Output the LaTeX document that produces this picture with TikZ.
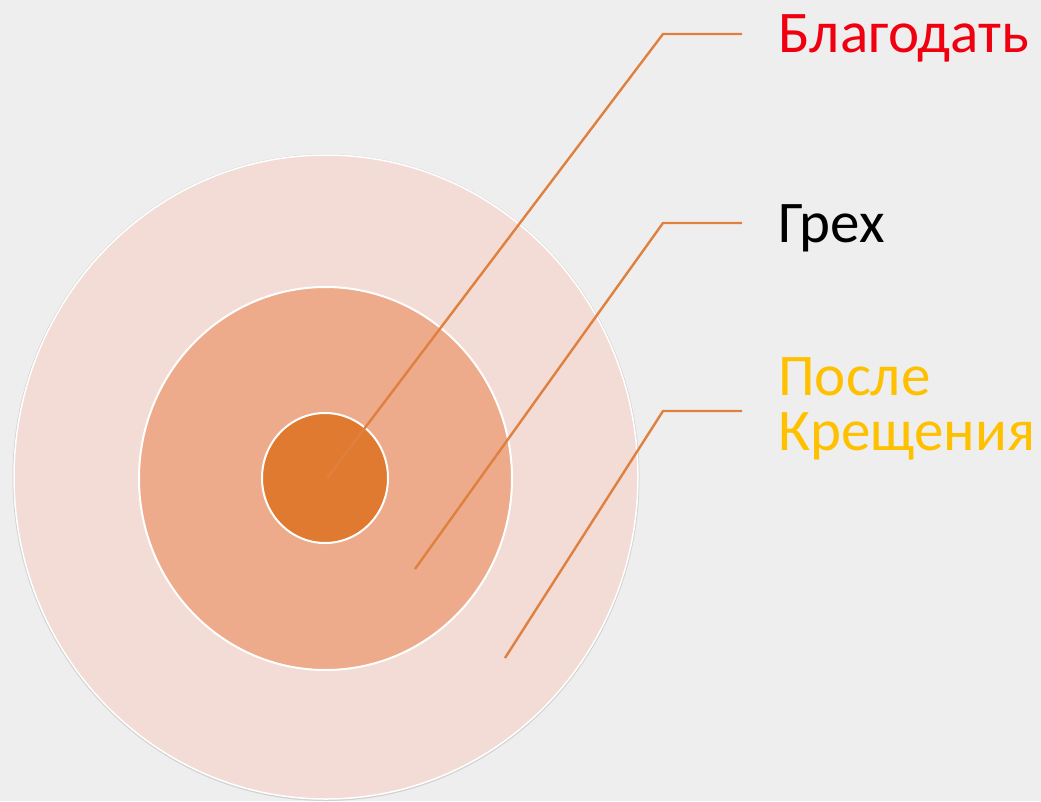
\documentclass[tikz,border=0pt]{standalone}
\usepackage{fontspec}
\setmainfont{Carlito}
\usetikzlibrary{shapes.geometric}
\definecolor{bgc}{HTML}{EEEEEE}
\definecolor{ringA}{HTML}{F2DCD5}
\definecolor{ringB}{HTML}{EDAB8B}
\definecolor{ringC}{HTML}{E07A30}
\definecolor{linec}{HTML}{E0803F}
\definecolor{redt}{HTML}{F0000F}
\definecolor{goldt}{HTML}{FFC000}
\tikzset{
  disc/.style={ellipse, inner sep=0pt, draw=white, line width=2pt},
  leader/.style={draw=linec, line width=2.4pt},
  lbl/.style={anchor=base west, inner sep=0pt, font=\fontsize{59}{55}\selectfont},
}
\begin{document}
\begin{tikzpicture}[x=1pt,y=-1pt]
\useasboundingbox (0,0) rectangle (1041,801);
\fill[bgc] (0,0) rectangle (1041,801);
% shadow of outer disc
\fill[black!18] (326,477.5) ellipse [x radius=313.5, y radius=323.5];
\node[disc, fill=ringA, line width=1.5pt, minimum width=624pt, minimum height=644pt] (outer) at (326,477) {};
\node[disc, fill=ringB, minimum width=373pt, minimum height=383pt] (middle) at (325.5,478.5) {};
\node[disc, fill=ringC, minimum width=126pt, minimum height=130pt] (inner) at (325,478) {};
% leader points
\coordinate (p1) at (327,478);
\coordinate (k1) at (663,34);
\coordinate (e1) at (742,34);
\coordinate (p2) at (415,569);
\coordinate (k2) at (663,223);
\coordinate (e2) at (742,223);
\coordinate (p3) at (505,658);
\coordinate (k3) at (663,411);
\coordinate (e3) at (742,411);
\draw[leader] (p1) -- (k1) -- (e1);
\draw[leader] (p2) -- (k2) -- (e2);
\draw[leader] (p3) -- (k3) -- (e3);
% labels
\node[lbl, text=redt] (grace) at (778,52) {Благодать};
\node[lbl, text=black] (sin) at (778,242) {Грех};
\node[lbl, text=goldt, align=left] (after) at (778,450) {После\\Крещения};
\end{tikzpicture}
\end{document}
